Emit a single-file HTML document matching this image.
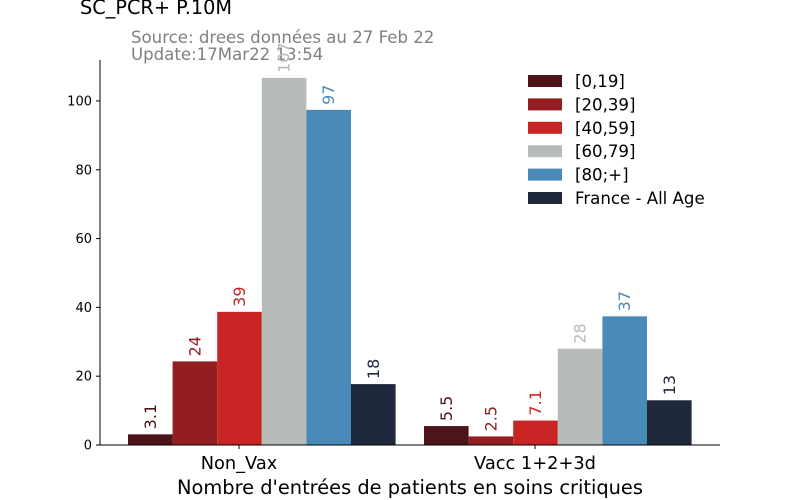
<!DOCTYPE html>
<html><head><meta charset="utf-8"><style>
html,body{margin:0;padding:0;background:#fff;}
svg{display:block;font-family:"DejaVu Sans","Liberation Sans",sans-serif;}
</style></head><body>
<svg id="chart" width="800" height="500" viewBox="0 0 800 500">
<text x="80" y="14" font-size="19.3" fill="#000">SC_PCR+ P.10M</text>
<text x="131" y="43" font-size="16.6" fill="#808080">Source: drees données au 27 Feb 22</text>
<text x="131" y="60" font-size="16.6" fill="#808080">Update:17Mar22 13:54</text>
<g id="plot"></g>
<g id="legend"></g>
<text x="410" y="494" font-size="19.4" text-anchor="middle" fill="#000">Nombre d'entrées de patients en soins critiques</text>
</svg>
<script>
const categories = ["Non_Vax", "Vacc 1+2+3d"];
const seriesNames = ["[0,19]", "[20,39]", "[40,59]", "[60,79]", "[80;+]", "France - All Age"];
const seriesColors = ["#4d1519", "#921e22", "#c82424", "#b8bcb8", "#4a8ab8", "#1f283a"];
const s0 = [3.1, 5.5];
const s1 = [24.3, 2.5];
const s2 = [38.7, 7.1];
const s3 = [106.7, 28];
const s4 = [97.4, 37.4];
const s5 = [17.7, 13];
const labels0 = ["3.1", "5.5"];
const labels1 = ["24", "2.5"];
const labels2 = ["39", "7.1"];
const labels3 = ["107", "28"];
const labels4 = ["97", "37"];
const labels5 = ["18", "13"];
const yTicks = [0, 20, 40, 60, 80, 100];

const series = [s0, s1, s2, s3, s4, s5];
const seriesLabels = [labels0, labels1, labels2, labels3, labels4, labels5];
const NS = "http://www.w3.org/2000/svg";
const L = 100, R = 720, T = 60, B = 445, yMax = 111.9;
const y = v => B - v / yMax * (B - T);
const tickX = ci => 239 + ci * 296;
const bw = 44.6;
const x = (ci, si) => tickX(ci) - 111 + si * bw;
const plot = document.getElementById("plot");
function mk(tag, attrs, parent) {
  const e = document.createElementNS(NS, tag);
  for (const k in attrs) e.setAttribute(k, attrs[k]);
  parent.appendChild(e);
  return e;
}
series.forEach((s, si) => {
  s.forEach((v, ci) => {
    const r = mk("rect", {x: x(ci, si), y: y(v), width: bw, height: B - y(v), fill: seriesColors[si]}, plot);
    
    
    const cx = x(ci, si) + bw / 2 + 5.5;
    const ty = y(v) - 5;
    const t = mk("text", {x: cx, y: ty, "font-size": 16, fill: seriesColors[si], transform: `rotate(-90 ${cx} ${ty})`}, plot);
    t.textContent = seriesLabels[si][ci];
    
    
  });
});
const ya = mk("line", {x1: L, y1: T, x2: L, y2: B, stroke: "#000", "stroke-width": 1}, plot);


const xa = mk("line", {x1: L, y1: B, x2: R, y2: B, stroke: "#000", "stroke-width": 1}, plot);


yTicks.forEach(v => {
  mk("line", {x1: L - 4, y1: y(v), x2: L, y2: y(v), stroke: "#000"}, plot);
  const t = mk("text", {x: L - 8, y: y(v) + 4.5, "font-size": 13, "text-anchor": "end", fill: "#000"}, plot);
  t.textContent = v;
  
  
});
categories.forEach((c, ci) => {
  mk("line", {x1: tickX(ci), y1: B, x2: tickX(ci), y2: B + 4, stroke: "#000"}, plot);
  const t = mk("text", {x: tickX(ci), y: B + 24, "font-size": 17.8, "text-anchor": "middle", fill: "#000"}, plot);
  t.textContent = c;
  
  
});
const lg = document.getElementById("legend");
seriesNames.forEach((n, i) => {
  const yy = 81 + i * 23.4;
  const r = mk("rect", {x: 528, y: yy - 6, width: 34, height: 12, fill: seriesColors[i]}, lg);
  
  
  const t = mk("text", {x: 575, y: yy + 6, "font-size": 16.6, fill: "#000"}, lg);
  t.textContent = n;
  
  
});
</script>
</body></html>
